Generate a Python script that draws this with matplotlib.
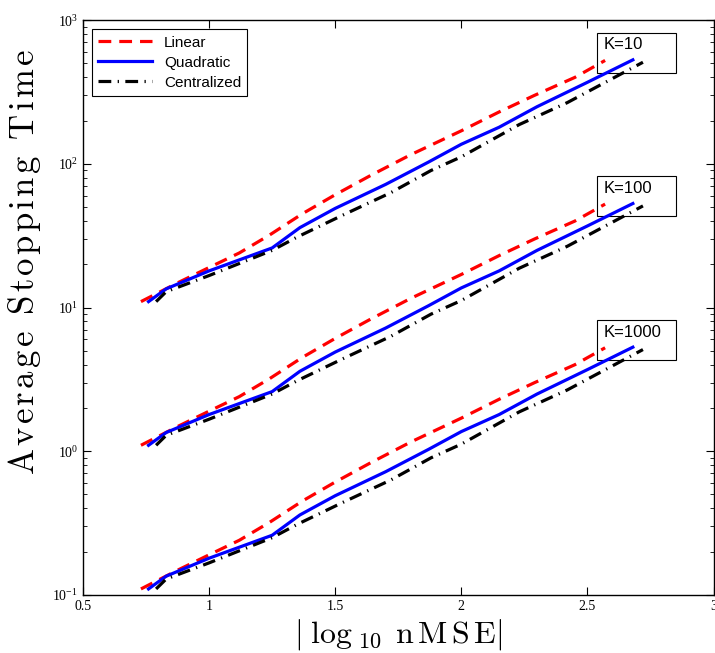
import matplotlib.pyplot as plt
from matplotlib.patches import Rectangle
from matplotlib.ticker import LogLocator, NullFormatter


# |log10 nMSE| points and stopping times for K=10 (other K are scaled by 1/10, 1/100)
linearX = [0.73, 0.88, 1.0, 1.12, 1.24, 1.37, 1.5, 1.64, 1.8, 2.0, 2.15, 2.29, 2.45, 2.57]
linearT = [11, 15, 19, 24, 32, 45, 61, 83, 116, 170, 230, 300, 400, 525]

quadX = [0.76, 0.83, 1.0, 1.25, 1.36, 1.5, 1.7, 1.87, 2.0, 2.15, 2.3, 2.5, 2.68]
quadT = [11, 13.5, 18, 26, 36, 49, 72, 103, 137, 180, 250, 370, 530]

centX = [0.79, 0.83, 1.0, 1.25, 1.35, 1.53, 1.72, 1.88, 2.0, 2.23, 2.42, 2.72]
centT = [11, 12.9, 16.7, 25, 31, 44, 63, 90, 112, 188, 267, 510]

kValues = [10, 100, 1000]
kLabels = ["K=10", "K=100", "K=1000"]
xTicks = [0.5, 1, 1.5, 2, 2.5, 3]

plt.rcParams['font.family'] = 'Liberation Serif'
plt.rcParams['mathtext.fontset'] = 'stix'

fig = plt.figure(figsize=(7.15, 6.53), dpi=100)
ax = fig.add_axes([0.116, 0.089, 0.882, 0.88])

for i, k in enumerate(kValues):
    scale = 10.0 / k
    ax.plot(linearX, [t * scale for t in linearT], color="red", lw=2.3,
            dashes=(4, 2.5), label="Linear" if i == 0 else None, zorder=3)
    ax.plot(quadX, [t * scale for t in quadT], color="blue", lw=2.3,
            label="Quadratic" if i == 0 else None, zorder=3)
    ax.plot(centX, [t * scale for t in centT], color="black", lw=2.3,
            dashes=(4, 2, 0.4, 2), label="Centralized" if i == 0 else None, zorder=3)

    # text box near the end of each group, drawn behind the lines
    boxBottom = 10 ** 2.635 * scale
    boxTop = 10 ** 2.913 * scale
    ax.add_patch(Rectangle((2.536, boxBottom), 0.317, boxTop - boxBottom,
                           facecolor="white", edgecolor="black", lw=0.8, zorder=1))
    ax.text(2.565, 10 ** 2.88 * scale, kLabels[i], family="Liberation Sans",
            fontsize=12, va="top", ha="left", zorder=2)

ax.set_yscale("log")
ax.set_xlim(0.5, 3)
ax.set_ylim(0.1, 1000)
ax.set_xticks(xTicks)
ax.set_xticklabels(["0.5", "1", "1.5", "2", "2.5", "3"])
ax.yaxis.set_major_locator(LogLocator(base=10, numticks=10))
ax.yaxis.set_minor_locator(LogLocator(base=10, subs=range(2, 10), numticks=20))
ax.yaxis.set_minor_formatter(NullFormatter())
ax.tick_params(which="both", direction="in", top=True, right=True, labelsize=10)
ax.tick_params(which="major", length=6)
ax.tick_params(which="minor", length=3)
for s in ax.spines.values():
    s.set_linewidth(1.0)

ax.set_xlabel(r"$|\;\log_{\;10}\;\mathrm{n\,M\,S\,E}|$", fontsize=23, math_fontfamily="cm")
ax.xaxis.set_label_coords(0.5, -0.038)
ax.xaxis.label.set_va("top")

# letter-spaced label, as in the original figure
gap = r"\hspace{0.11}"
ylab = r"$\mathrm{" + gap.join("Average Stopping Time").replace(gap + " " + gap, r"\;\;") + "}$"
ax.set_ylabel(ylab, fontsize=25, math_fontfamily="cm", va="center", ha="center")
ax.yaxis.set_label_coords(-0.093, 0.58)

leg = ax.legend(loc="upper left", prop={"family": "Liberation Sans", "size": 11},
                handlelength=3.5, fancybox=False, framealpha=1, edgecolor="black",
                borderaxespad=0.6, labelspacing=0.4, borderpad=0.4)
leg.get_frame().set_linewidth(0.8)

plt.savefig("out.png", dpi=100)
